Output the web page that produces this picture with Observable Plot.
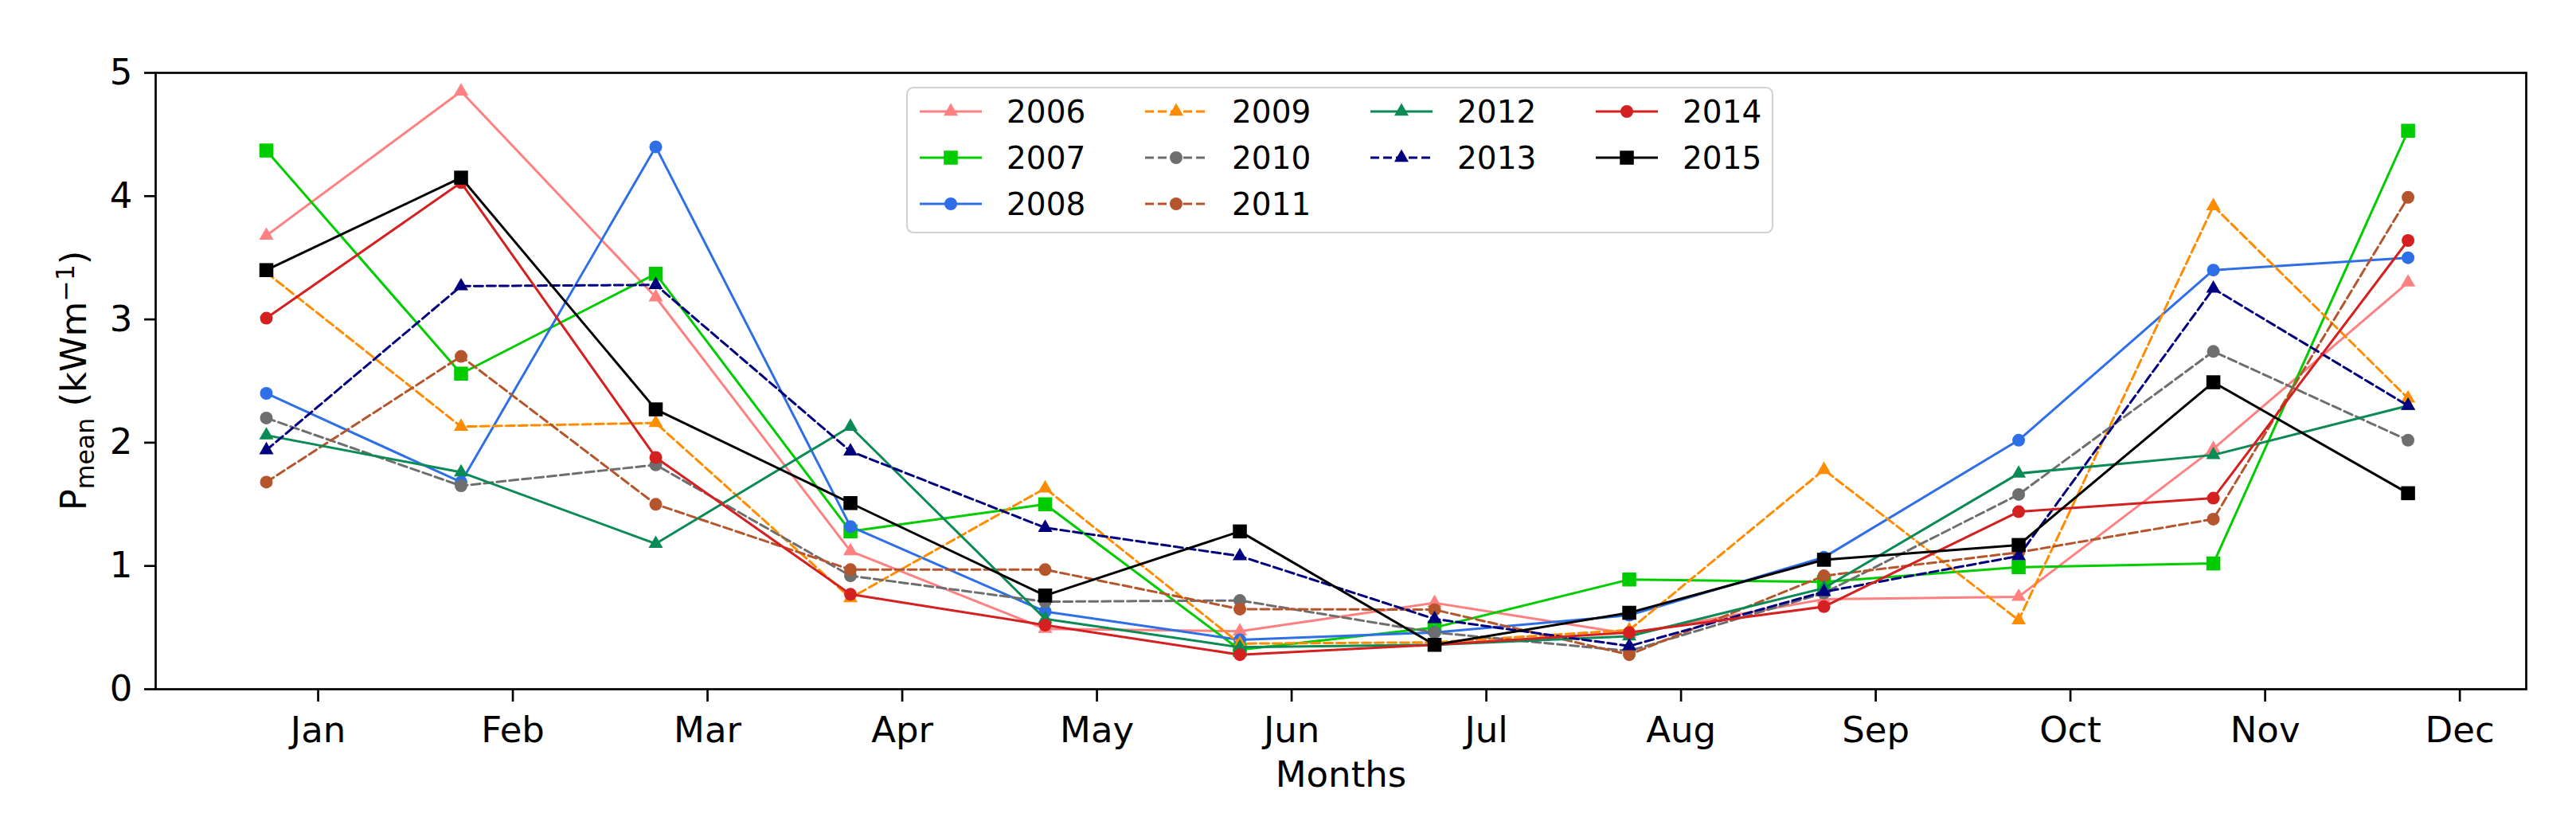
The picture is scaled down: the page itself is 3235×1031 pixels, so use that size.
<!DOCTYPE html>
<html>
<head>
<meta charset="utf-8">
<script src="https://cdn.jsdelivr.net/npm/d3@7"></script>
<script src="https://cdn.jsdelivr.net/npm/@observablehq/plot@0.6"></script>
<style>
html, body { margin: 0; padding: 0; background: #fff; }
#chart { position: relative; width: 3235px; height: 1031px; }
</style>
</head>
<body>
<div id="chart"></div>
<script>
// ---- data ----
const months = ["Jan", "Feb", "Mar", "Apr", "May", "Jun", "Jul", "Aug", "Sep", "Oct", "Nov", "Dec"];
const years = ["2006", "2007", "2008", "2009", "2010", "2011", "2012", "2013", "2014", "2015"];
const yTicks = [0, 1, 2, 3, 4, 5];

const p2006 = [3.68, 4.85, 3.18, 1.12, 0.49, 0.47, 0.70, 0.45, 0.73, 0.75, 1.95, 3.30];
const p2007 = [4.37, 2.56, 3.37, 1.28, 1.50, 0.32, 0.50, 0.89, 0.87, 0.99, 1.02, 4.53];
const p2008 = [2.40, 1.68, 4.40, 1.32, 0.63, 0.40, 0.46, 0.60, 1.07, 2.02, 3.40, 3.50];
const p2009 = [3.38, 2.13, 2.16, 0.74, 1.63, 0.37, 0.38, 0.48, 1.78, 0.56, 3.92, 2.36];
const p2010 = [2.20, 1.65, 1.82, 0.92, 0.71, 0.72, 0.46, 0.31, 0.78, 1.58, 2.74, 2.02];
const p2011 = [1.68, 2.70, 1.50, 0.97, 0.97, 0.65, 0.645, 0.28, 0.92, 1.11, 1.38, 3.99];
const p2012 = [2.06, 1.76, 1.18, 2.13, 0.57, 0.34, 0.36, 0.43, 0.82, 1.75, 1.90, 2.30];
const p2013 = [1.94, 3.27, 3.28, 1.93, 1.31, 1.08, 0.57, 0.35, 0.79, 1.08, 3.25, 2.30];
const p2014 = [3.01, 4.11, 1.88, 0.77, 0.52, 0.28, 0.36, 0.46, 0.67, 1.44, 1.55, 3.64];
const p2015 = [3.40, 4.15, 2.27, 1.51, 0.76, 1.28, 0.36, 0.62, 1.05, 1.17, 2.49, 1.59];
const seriesValues = [p2006, p2007, p2008, p2009, p2010, p2011, p2012, p2013, p2014, p2015];

// ---- styles ----
const styleOf = {
  "2006": {color: "#ff8080", symbol: "triangle", dash: null},
  "2007": {color: "#00cc00", symbol: "square", dash: null},
  "2008": {color: "#2e6fe8", symbol: "circle", dash: null},
  "2009": {color: "#ff8c00", symbol: "triangle", dash: "11,5"},
  "2010": {color: "#6e6e6e", symbol: "circle", dash: "11,5"},
  "2011": {color: "#b5552b", symbol: "circle", dash: "11,5"},
  "2012": {color: "#0a8a55", symbol: "triangle", dash: null},
  "2013": {color: "#00007f", symbol: "triangle", dash: "11,5"},
  "2014": {color: "#d42020", symbol: "circle", dash: null},
  "2015": {color: "#000000", symbol: "square", dash: null}
};
const symbolR = {triangle: 6.7, square: 9.9, circle: 8};
const tickShift = 0.266;        // month ticks sit slightly right of the data points
const FONT = "DejaVu Sans";

const rows = years.flatMap((yr, k) =>
  seriesValues[k].map((v, i) => ({year: yr, m: i, value: v}))
);

const W = 3235, H = 1031;
const mL = 195, mR = 63, mT = 91, mB = 166;

const seriesMarks = years.flatMap(yr => {
  const s = styleOf[yr];
  const d = rows.filter(r => r.year === yr);
  return [
    Plot.line(d, {x: "m", y: "value", stroke: s.color, strokeWidth: 3, strokeDasharray: s.dash, strokeLinejoin: "round"}),
    Plot.dot(d, {x: "m", y: "value", fill: s.color, stroke: "none", symbol: () => s.symbol, r: symbolR[s.symbol]})
  ];
});

const plot = Plot.plot({
  width: W,
  height: H,
  marginLeft: mL, marginRight: mR, marginTop: mT, marginBottom: mB,
  style: {fontFamily: FONT, fontSize: "45px", color: "#000", background: "#fff", overflow: "visible"},
  x: {domain: [-0.5685, 11.607], axis: null},
  y: {domain: [0, 5], axis: null},
  symbol: {type: "identity"},
  marks: [
    ...seriesMarks,
    Plot.axisY({ticks: yTicks, tickSize: 14, tickPadding: 15, tickFormat: d => String(d), label: null, stroke: "#000", strokeWidth: 2.7, fill: "#000"}),
    Plot.axisX({ticks: months.map((_, i) => i + tickShift), tickSize: 16, tickPadding: 19,
      tickFormat: d => months[Math.round(d - tickShift)], label: null, stroke: "#000", strokeWidth: 2.7, fill: "#000"}),
    Plot.frame({stroke: "#000", strokeWidth: 2.7}),
    Plot.text(["Months"], {frameAnchor: "bottom", lineAnchor: "top", dy: 91, text: d => d, fontSize: 45, fill: "#000"})
  ]
});

document.getElementById("chart").appendChild(plot);

const svg = d3.select(plot);

// y-axis label: P_mean (kWm^-1)
const yl = svg.append("text")
  .attr("transform", `translate(108, ${(mT + (H - mB)) / 2}) rotate(-90)`)
  .attr("text-anchor", "middle")
  .attr("font-family", FONT)
  .attr("font-size", 45)
  .attr("fill", "#000");
yl.append("tspan").text("P");
yl.append("tspan").attr("font-size", 31.5).attr("dy", 10).text("mean");
yl.append("tspan").attr("dy", -10).text("\u00a0(kWm");
yl.append("tspan").attr("font-size", 31.5).attr("dy", -15).text("\u22121");
yl.append("tspan").attr("dy", 15).text(")");

// legend (4 columns, column-major like matplotlib: 3,3,2,2 entries)
const colSizes = [3, 3, 2, 2];
const lg = svg.append("g").attr("font-family", FONT).attr("font-size", 39).attr("text-anchor", "start");
lg.append("rect")
  .attr("x", 1139).attr("y", 110).attr("width", 1087).attr("height", 182)
  .attr("rx", 8).attr("ry", 8)
  .attr("fill", "#fff").attr("fill-opacity", 0.8)
  .attr("stroke", "#d2d2d2").attr("stroke-width", 2.2);
const colStride = 283, rowStride = 58, x0 = 1155, y0 = 140, handleLen = 78;
let k = 0;
colSizes.forEach((n, col) => {
  for (let row = 0; row < n; row++, k++) {
    const yr = years[k];
    const s = styleOf[yr];
    const lx = x0 + col * colStride, ly = y0 + row * rowStride;
    lg.append("line")
      .attr("x1", lx).attr("x2", lx + handleLen).attr("y1", ly).attr("y2", ly)
      .attr("stroke", s.color).attr("stroke-width", 3)
      .attr("stroke-dasharray", s.dash);
    const sym = s.symbol === "triangle" ? d3.symbolTriangle : s.symbol === "square" ? d3.symbolSquare : d3.symbolCircle;
    const r = symbolR[s.symbol];
    lg.append("path")
      .attr("d", d3.symbol(sym, Math.PI * r * r)())
      .attr("transform", `translate(${lx + handleLen / 2}, ${ly})`)
      .attr("fill", s.color);
    lg.append("text")
      .attr("x", lx + handleLen + 31).attr("y", ly)
      .attr("dy", "0.36em")
      .attr("text-anchor", "start")
      .attr("fill", "#000")
      .text(yr);
  }
});
</script>
</body>
</html>
